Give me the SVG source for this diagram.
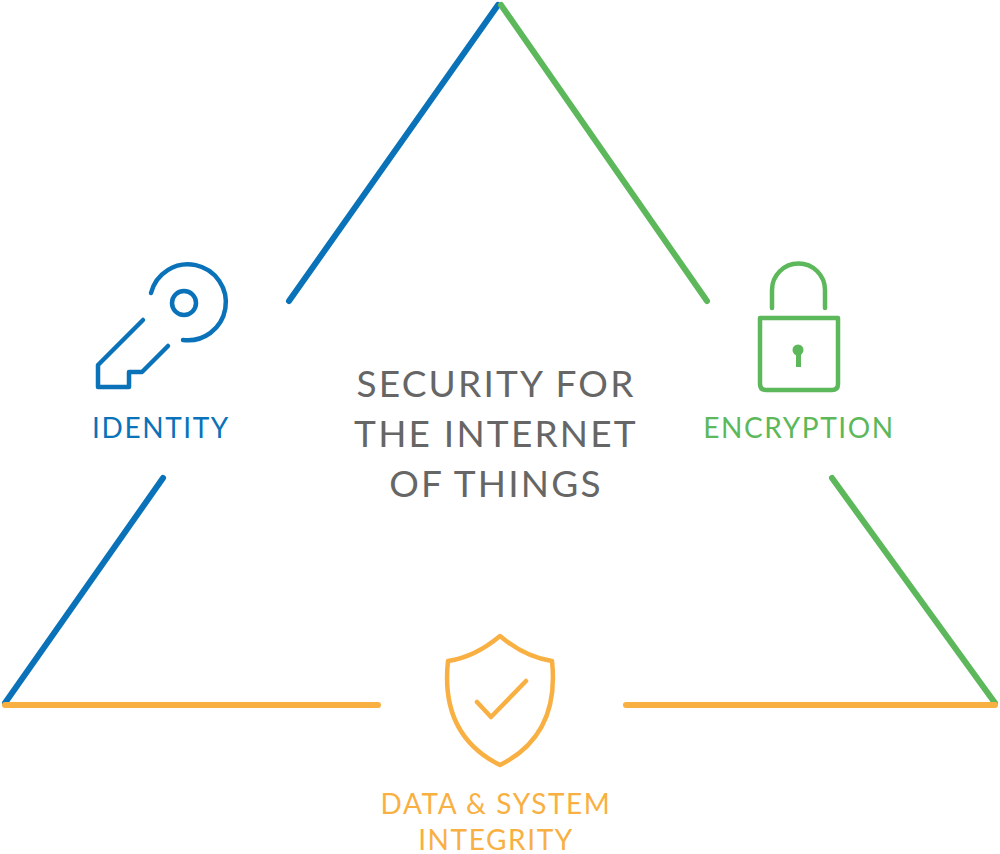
<svg xmlns="http://www.w3.org/2000/svg" width="1000" height="854" viewBox="0 0 1000 854">
<style>
.s{fill:none;stroke-width:6;stroke-linecap:round;stroke-linejoin:round}
.i{fill:none;stroke-width:4.5;stroke-linecap:round;stroke-linejoin:round}
.b{stroke:#0a72b9}.g{stroke:#5cb85a}.o{stroke:#f9b043}
text{font-family:Lato,"Open Sans",sans-serif;text-anchor:middle}
.t{fill:#666;font-size:37px;letter-spacing:2.2px}
.l{font-size:28px;letter-spacing:1.6px}
</style>
<rect width="1000" height="854" fill="#fff"/>
<g id="connectors">
<line class="s b" x1="5" y1="703" x2="163" y2="478"/>
<line class="s b" x1="289" y1="301" x2="498" y2="5"/>
<line class="s g" x1="501" y1="5" x2="707" y2="301"/>
<line class="s g" x1="832" y1="478" x2="995" y2="703"/>
<line class="s o" x1="5" y1="705" x2="378" y2="705"/>
<line class="s o" x1="626" y1="705" x2="995" y2="705"/>
</g>
<g id="center">
<text class="t" x="496" y="397">SECURITY FOR</text>
<text class="t" x="496" y="447">THE INTERNET</text>
<text class="t" x="496" y="497">OF THINGS</text>
</g>
<g id="identity">
<circle class="i b" cx="184" cy="303" r="12"/>
<path class="i b" d="M151,293 A38,38 0 1 1 183,340"/>
<path class="i b" d="M143,320 L98,365 L98,387 L129,387 L129,372 L142,372 L168,346"/>
<text class="l" x="161" y="438" fill="#0a72b9">IDENTITY</text>
</g>
<g id="encryption">
<path class="i g" d="M772,308 V290 A26.5,26.5 0 0 1 825,290 V308"/>
<path class="i g" d="M760,318 H838 V384 Q838,390 832,390 H766 Q760,390 760,384 Z"/>
<circle cx="798" cy="350" r="5.5" fill="#5cb85a"/>
<rect x="796" y="350" width="5" height="17" fill="#5cb85a"/>
<text class="l" x="799" y="438" fill="#5cb85a">ENCRYPTION</text>
</g>
<g id="integrity">
<path class="i o" d="M500,636 Q475,657 448,661 Q440,735 500,765 Q560,735 552,661 Q525,657 500,636 Z"/>
<path class="i o" d="M477,702 L491,717 L526,681"/>
<text class="l" x="496" y="814" fill="#f9b043">DATA &amp; SYSTEM</text>
<text class="l" x="496" y="850" fill="#f9b043">INTEGRITY</text>
</g>
</svg>
